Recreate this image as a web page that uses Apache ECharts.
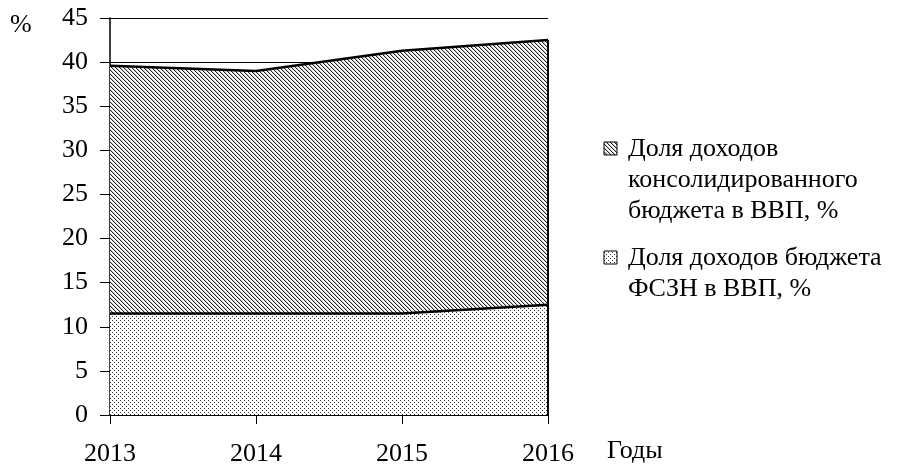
<!DOCTYPE html>
<html>
<head>
<meta charset="utf-8">
<script src="https://cdn.jsdelivr.net/npm/echarts@6/dist/echarts.min.js"></script>
<style>
html,body{margin:0;padding:0;background:#fff;}
#chart{width:899px;height:469px;}
</style>
</head>
<body>
<div id="chart"></div>
<script>
// ---- data ----
var years = ['2013', '2014', '2015', '2016'];
var consolidatedShare = [39.6, 39.0, 41.3, 42.5];   // Доля доходов консолидированного бюджета в ВВП, %
var fszShare = [11.5, 11.5, 11.5, 12.5];            // Доля доходов бюджета ФСЗН в ВВП, %
var yTicks = [0, 5, 10, 15, 20, 25, 30, 35, 40, 45];
var seriesNames = ['Доля доходов\nконсолидированного\nбюджета в ВВП, %', 'Доля доходов бюджета\nФСЗН в ВВП, %'];
var axisTitleX = 'Годы';
var axisTitleY = '%';

// ---- patterns ----
function makeHatch() {
  var c = document.createElement('canvas');
  c.width = 4; c.height = 4;
  var g = c.getContext('2d');
  g.fillStyle = '#ffffff'; g.fillRect(0, 0, 4, 4);
  for (var i = 0; i < 4; i++) {
    g.fillStyle = '#222222'; g.fillRect(i, i, 1, 1);
    g.fillStyle = '#c8c8c8'; g.fillRect((i + 1) % 4, i, 1, 1);
  }
  return c;
}
function makeDots() {
  var c = document.createElement('canvas');
  c.width = 4; c.height = 4;
  var g = c.getContext('2d');
  g.fillStyle = '#ffffff'; g.fillRect(0, 0, 4, 4);
  g.fillStyle = '#3a3a3a';
  g.fillRect(0, 0, 1, 1);
  g.fillRect(2, 2, 1, 1);
  return c;
}
var hatch = { image: makeHatch(), repeat: 'repeat' };
var dots = { image: makeDots(), repeat: 'repeat' };

var FONT = '"Liberation Serif", "Times New Roman", serif';
var FS = 26;

var chart = echarts.init(document.getElementById('chart'), null, { renderer: 'canvas' });
var last = years.length - 1;

chart.setOption({
  animation: false,
  backgroundColor: '#ffffff',
  grid: { left: 110, right: 351, top: 18, bottom: 54 },
  xAxis: {
    type: 'category',
    data: years,
    boundaryGap: false,
    axisLine: { show: true, lineStyle: { color: '#000', width: 1.5 } },
    axisTick: { show: true, inside: false, length: 9, alignWithLabel: true, lineStyle: { color: '#000', width: 1 } },
    axisLabel: { color: '#000', fontFamily: FONT, fontSize: FS, margin: 26 },
    splitLine: { show: false }
  },
  yAxis: {
    type: 'value',
    min: yTicks[0],
    max: yTicks[yTicks.length - 1],
    interval: yTicks[1] - yTicks[0],
    axisLine: { show: true, lineStyle: { color: '#000', width: 1.5 } },
    axisTick: { show: true, inside: false, length: 10, lineStyle: { color: '#000', width: 1 } },
    axisLabel: { color: '#000', fontFamily: FONT, fontSize: FS, margin: 22 },
    splitLine: { show: true, lineStyle: { color: '#000', width: 1 } }
  },
  series: [
    {
      name: seriesNames[0],
      type: 'line',
      data: consolidatedShare,
      symbol: 'none',
      lineStyle: { color: '#000', width: 2.5 },
      itemStyle: { color: '#000' },
      areaStyle: { color: hatch, opacity: 1 },
      z: 2,
      markLine: {
        silent: true,
        symbol: 'none',
        label: { show: false },
        lineStyle: { color: '#000', width: 2, type: 'solid' },
        data: [[{ coord: [years[last], 0] }, { coord: [years[last], consolidatedShare[last]] }]]
      }
    },
    {
      name: seriesNames[1],
      type: 'line',
      data: fszShare,
      symbol: 'none',
      lineStyle: { color: '#000', width: 2.5 },
      itemStyle: { color: '#000' },
      areaStyle: { color: dots, opacity: 1 },
      z: 3
    }
  ],
  graphic: [
    { type: 'text', left: 10, top: 12, style: { text: axisTitleY, font: FS + 'px ' + FONT, fill: '#000' } },
    { type: 'text', left: 607, top: 438, style: { text: axisTitleX, font: FS + 'px ' + FONT, fill: '#000' } },
    { type: 'rect', shape: { x: 604, y: 142, width: 13, height: 13 }, style: { fill: hatch, stroke: '#000', lineWidth: 1 } },
    { type: 'text', left: 628, top: 134, style: { text: seriesNames[0], font: FS + 'px ' + FONT, fill: '#000', lineHeight: 31 } },
    { type: 'rect', shape: { x: 604, y: 251, width: 13, height: 13 }, style: { fill: dots, stroke: '#000', lineWidth: 1 } },
    { type: 'text', left: 628, top: 243, style: { text: seriesNames[1], font: FS + 'px ' + FONT, fill: '#000', lineHeight: 31 } }
  ]
});
</script>
</body>
</html>
